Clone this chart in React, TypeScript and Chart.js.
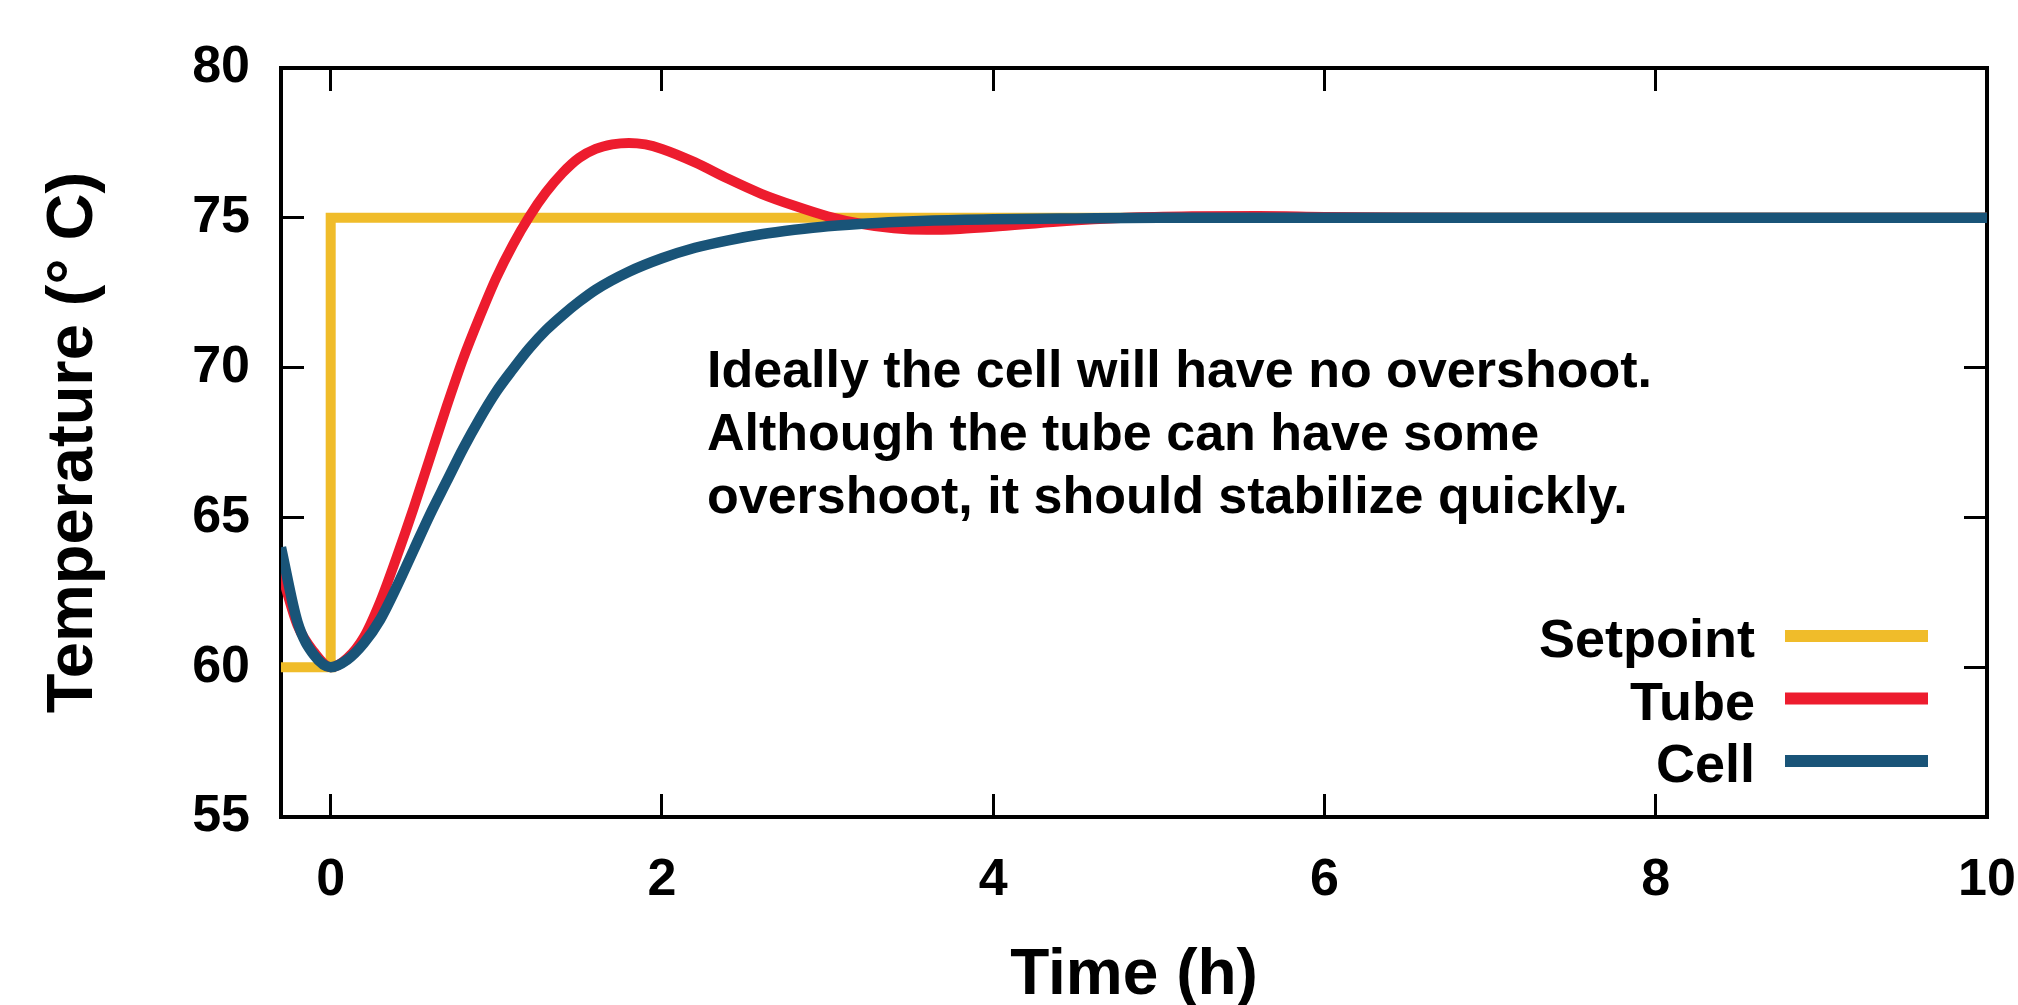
import React, { useEffect, useRef } from 'react';
import { Chart, registerables } from 'chart.js';

Chart.register(...registerables);

const FONT = '"Liberation Sans", Arial, Helvetica, sans-serif';

// ---- data ----
const xTickValues = [0, 2, 4, 6, 8, 10];
const yTickValues = [55, 60, 65, 70, 75, 80];

const seriesLabels = ['Setpoint', 'Tube', 'Cell'];

const setpointTime = [-0.3, 0, 0, 10];
const setpointTemp = [60, 60, 75, 75];

const tubeTime = [-0.3, -0.2, -0.1, 0, 0.1, 0.2, 0.3, 0.4, 0.5, 0.6, 0.7, 0.8, 0.9, 1.0, 1.1, 1.2, 1.3, 1.4, 1.5, 1.6, 1.7, 1.8, 1.9, 2.0, 2.2, 2.4, 2.6, 2.8, 3.0, 3.2, 3.4, 3.6, 3.8, 4.0, 4.4, 4.8, 5.2, 5.6, 6.0, 6.5, 7.0, 8.0, 9.0, 10.0];
const tubeTemp = [63.2, 61.4, 60.5, 60.0, 60.3, 61.0, 62.2, 63.7, 65.3, 67.0, 68.7, 70.3, 71.7, 73.0, 74.1, 75.05, 75.85, 76.5, 77.0, 77.3, 77.45, 77.5, 77.45, 77.3, 76.85, 76.3, 75.8, 75.4, 75.05, 74.8, 74.65, 74.6, 74.63, 74.7, 74.88, 75.0, 75.05, 75.06, 75.03, 75.01, 75.0, 75.0, 75.0, 75.0];

const cellTime = [-0.3, -0.2, -0.1, 0, 0.1, 0.2, 0.3, 0.4, 0.5, 0.6, 0.7, 0.8, 0.9, 1.0, 1.1, 1.2, 1.3, 1.4, 1.5, 1.6, 1.8, 2.0, 2.2, 2.4, 2.6, 2.8, 3.0, 3.3, 3.6, 4.0, 4.5, 5.0, 6.0, 8.0, 10.0];
const cellTemp = [64.0, 61.5, 60.4, 60.0, 60.25, 60.8, 61.6, 62.7, 63.9, 65.1, 66.2, 67.3, 68.3, 69.2, 69.95, 70.65, 71.25, 71.75, 72.2, 72.6, 73.2, 73.65, 74.0, 74.25, 74.45, 74.6, 74.72, 74.83, 74.9, 74.95, 74.98, 75.0, 75.0, 75.0, 75.0];

const annotationLines = [
  'Ideally the cell will have no overshoot.',
  'Although the tube can have some',
  'overshoot, it should stabilize quickly.',
];

const xTitle = 'Time (h)';
const yTitle = 'Temperature (° C)';

// ---- styles ----
const COLORS = { setpoint: '#F0BC2A', tube: '#ED1C2E', cell: '#195478' };

const toPoints = (xs: number[], ys: number[]) => xs.map((x, i) => ({ x, y: ys[i] }));

const legendPlugin = {
  id: 'gpLegend',
  afterDatasetsDraw(chart: any) {
    const ctx = chart.ctx as CanvasRenderingContext2D;
    ctx.save();
    ctx.font = `bold 54px ${FONT}`;
    ctx.textAlign = 'right';
    ctx.textBaseline = 'alphabetic';
    const byLabel: Record<string, string> = {};
    chart.data.datasets.forEach((d: any) => { byLabel[d.label] = d.borderColor; });
    seriesLabels.forEach((label, i) => {
      const lineY = 636 + i * 62.5;
      ctx.fillStyle = '#000';
      ctx.fillText(label, 1755, lineY + 21);
      ctx.strokeStyle = byLabel[label];
      ctx.lineWidth = 12;
      ctx.lineCap = 'butt';
      ctx.beginPath();
      ctx.moveTo(1785, lineY);
      ctx.lineTo(1928, lineY);
      ctx.stroke();
    });
    ctx.restore();
  },
};

const annotationPlugin = {
  id: 'gpAnnotation',
  afterDatasetsDraw(chart: any) {
    const ctx = chart.ctx as CanvasRenderingContext2D;
    ctx.save();
    ctx.font = `bold 52px ${FONT}`;
    ctx.textAlign = 'left';
    ctx.textBaseline = 'alphabetic';
    ctx.fillStyle = '#000';
    annotationLines.forEach((line, i) => {
      ctx.fillText(line, 707, 387 + i * 63);
    });
    ctx.restore();
  },
};

export default function App() {
  const ref = useRef<HTMLCanvasElement | null>(null);

  useEffect(() => {
    if (!ref.current) return;
    const tickFont = { family: FONT, size: 52, weight: 'bold' as const };
    const gridCommon = {
      display: true,
      drawOnChartArea: false,
      drawTicks: true,
      tickLength: -23,
      tickWidth: 3,
      tickColor: '#000',
      color: '#000',
    };
    const borderCommon = { display: true, color: '#000', width: 4 };
    const setTicks = (vals: number[]) => (s: any) => {
      s.ticks = vals.map((v) => ({ value: v }));
    };
    const fixBox = (w: number | null, h: number | null) => (s: any) => {
      if (w !== null) s.width = w;
      if (h !== null) s.height = h;
      s.paddingLeft = 0;
      s.paddingRight = 0;
      s.paddingTop = 0;
      s.paddingBottom = 0;
    };

    const chart = new Chart(ref.current, {
      type: 'line',
      data: {
        datasets: [
          {
            label: seriesLabels[0],
            data: toPoints(setpointTime, setpointTemp),
            borderColor: COLORS.setpoint,
            borderWidth: 10,
            pointRadius: 0,
            tension: 0,
            borderJoinStyle: 'miter',
            borderCapStyle: 'butt',
            fill: false,
            order: 3,
            clip: 0,
          },
          {
            label: seriesLabels[1],
            data: toPoints(tubeTime, tubeTemp),
            borderColor: COLORS.tube,
            borderWidth: 10,
            pointRadius: 0,
            cubicInterpolationMode: 'monotone',
            fill: false,
            order: 2,
            clip: 0,
          },
          {
            label: seriesLabels[2],
            data: toPoints(cellTime, cellTemp),
            borderColor: COLORS.cell,
            borderWidth: 10.5,
            pointRadius: 0,
            cubicInterpolationMode: 'monotone',
            fill: false,
            order: 1,
            clip: 0,
          },
        ],
      },
      options: {
        animation: false,
        responsive: false,
        devicePixelRatio: 1,
        events: [],
        layout: { padding: { left: 0, right: 31, top: 68, bottom: 0 } },
        plugins: {
          legend: { display: false },
          tooltip: { enabled: false },
          title: { display: false },
        },
        scales: {
          x: {
            type: 'linear',
            position: 'bottom',
            min: -0.3,
            max: 10,
            afterBuildTicks: setTicks(xTickValues),
            afterFit: fixBox(null, 188),
            grid: gridCommon,
            border: borderCommon,
            ticks: {
              color: '#000',
              font: tickFont,
              padding: 55,
              maxRotation: 0,
              autoSkip: false,
            },
            title: {
              display: true,
              text: xTitle,
              color: '#000',
              font: { family: FONT, size: 64, weight: 'bold', lineHeight: 0.9 },
              padding: { top: 0, bottom: 0 },
            },
          },
          x2: {
            type: 'linear',
            position: 'top',
            min: -0.3,
            max: 10,
            afterBuildTicks: setTicks(xTickValues),
            afterFit: fixBox(null, 0),
            grid: gridCommon,
            border: borderCommon,
            ticks: { display: false },
          },
          y: {
            type: 'linear',
            position: 'left',
            min: 55,
            max: 80,
            afterBuildTicks: setTicks(yTickValues),
            afterFit: fixBox(281, null),
            grid: gridCommon,
            border: borderCommon,
            ticks: {
              color: '#000',
              font: tickFont,
              padding: 54,
              autoSkip: false,
            },
            title: {
              display: true,
              text: yTitle,
              color: '#000',
              font: { family: FONT, size: 65, weight: 'bold', lineHeight: 1.2 },
              padding: { top: 35, bottom: 0 },
            },
          },
          y2: {
            type: 'linear',
            position: 'right',
            min: 55,
            max: 80,
            afterBuildTicks: setTicks(yTickValues),
            afterFit: fixBox(0, null),
            grid: gridCommon,
            border: borderCommon,
            ticks: { display: false },
          },
        },
      } as any,
      plugins: [annotationPlugin, legendPlugin],
    });

    return () => chart.destroy();
  }, []);

  return (
    <div style={{ position: 'fixed', left: 0, top: 0, width: 2018, height: 1005, background: '#fff' }}>
      <canvas ref={ref} width={2018} height={1005} style={{ display: 'block', width: 2018, height: 1005 }} />
    </div>
  );
}
